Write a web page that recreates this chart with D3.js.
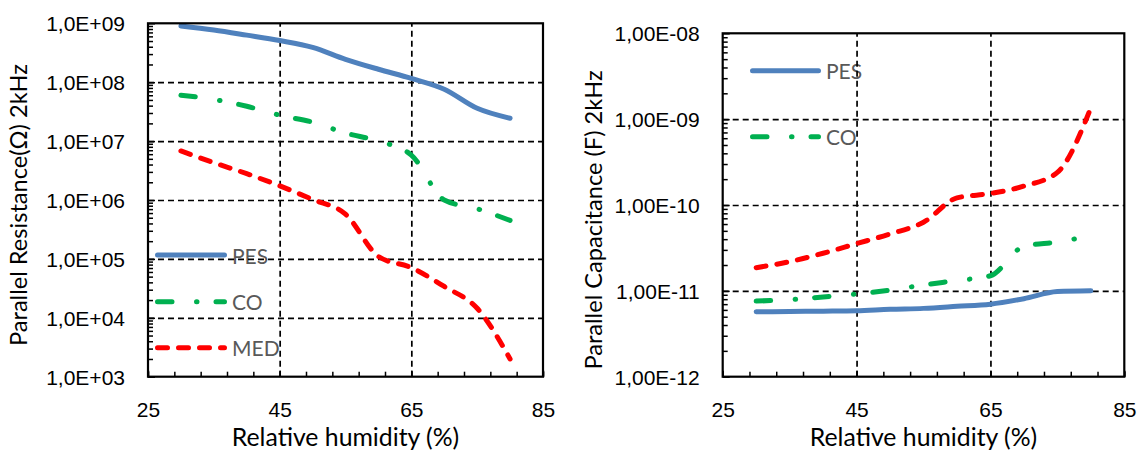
<!DOCTYPE html>
<html>
<head>
<meta charset="utf-8">
<script src="https://cdn.jsdelivr.net/npm/d3@7"></script>
<style>
  html, body { margin: 0; padding: 0; background: #fff; }
  svg { display: block; font-family: Lato, "Open Sans", sans-serif; }
</style>
</head>
<body>
<script>
// Relative humidity (%) at which each sample was measured
const humidity = [30, 35, 40, 45, 50, 55, 60, 65, 70, 75, 80];

// Parallel resistance (Ω) at 2 kHz
const resistancePES = [9.0e8, 7.7e8, 6.3e8, 5.1e8, 3.9e8, 2.45e8, 1.66e8, 1.16e8, 7.6e7, 3.6e7, 2.44e7];
const resistanceCO  = [6.0e7, 5.1e7, 3.9e7, 2.75e7, 2.1e7, 1.37e7, 1.0e7, 5.8e6, 1.0e6, 7.1e5, 4.5e5];
const resistanceMED = [6.8e6, 4.3e6, 2.8e6, 1.74e6, 1.02e6, 5.75e5, 1.1e5, 7.1e4, 3.4e4, 1.45e4, 2.0e3];

// Parallel capacitance (F) at 2 kHz
const capacitancePES = [5.7e-12, 5.75e-12, 5.8e-12, 5.87e-12, 6.1e-12, 6.25e-12, 6.6e-12, 7.0e-12, 8.1e-12, 9.8e-12, 1.0e-11];
const capacitanceCO  = [7.6e-12, 7.9e-12, 8.5e-12, 9.2e-12, 1.02e-11, 1.17e-11, 1.32e-11, 1.5e-11, 3.3e-11, 3.7e-11, 4.4e-11];
const capacitanceMED = [1.86e-11, 2.19e-11, 2.74e-11, 3.55e-11, 4.6e-11, 6.3e-11, 1.21e-10, 1.36e-10, 1.66e-10, 2.4e-10, 1.35e-9];

// Axis ticks
const xTickValues = [25, 45, 65, 85];
const resistanceTickValues = [1e3, 1e4, 1e5, 1e6, 1e7, 1e8, 1e9];
const resistanceTickLabels = ["1,0E+03", "1,0E+04", "1,0E+05", "1,0E+06", "1,0E+07", "1,0E+08", "1,0E+09"];
const capacitanceTickValues = [1e-12, 1e-11, 1e-10, 1e-9, 1e-8];
const capacitanceTickLabels = ["1,00E-12", "1,00E-11", "1,00E-10", "1,00E-09", "1,00E-08"];

const seriesStyle = {
  PES: { color: "#4F81BD", dash: null },
  CO:  { color: "#00B050", dash: "14.5,24.5,0.5,19" },
  MED: { color: "#FF0000", dash: "10,11" }
};

const W = 1137, H = 454;
const TICK_FONT = 21;
const X_TITLE_FONT = 24.8;
const Y_TITLE_FONT = 23.6;
const LINE_W = 5;
const svg = d3.select("body").append("svg").attr("width", W).attr("height", H);

function drawPanel(p) {
  const x = d3.scaleLinear().domain([25, 85]).range([p.left, p.right]);
  const y = d3.scaleLog().domain([p.tickValues[0], p.tickValues[p.tickValues.length - 1]]).range([p.bottom, p.top]);
  const g = svg.append("g");
  const plotW = p.right - p.left, plotH = p.bottom - p.top;

  // legend (sits beneath the grid)
  const leg = g.append("g");
  p.legend.forEach((it) => {
    const st = seriesStyle[it.name];
    leg.append("line")
      .attr("x1", it.x + LINE_W / 2).attr("x2", it.x + it.len - LINE_W / 2)
      .attr("y1", it.y).attr("y2", it.y)
      .attr("stroke", st.color).attr("stroke-width", LINE_W)
      .attr("stroke-linecap", "round")
      .attr("stroke-dasharray", st.dash);
    leg.append("text")
      .attr("x", it.x + it.len + 5).attr("y", it.y)
      .attr("dominant-baseline", "central")
      .attr("font-size", TICK_FONT).attr("fill", "#595959")
      .text(it.name);
  });

  // dashed grid
  const styleGrid = (s) => {
    s.select(".domain").remove();
    s.selectAll("line").attr("stroke", "#000").attr("stroke-width", 1.7).attr("stroke-dasharray", "6,4");
  };
  g.append("g").attr("transform", `translate(0,${p.bottom})`)
    .call(d3.axisBottom(x).tickValues(xTickValues.slice(1, -1)).tickSize(-plotH).tickFormat(""))
    .call(styleGrid);
  g.append("g").attr("transform", `translate(${p.left},0)`)
    .call(d3.axisLeft(y).tickValues(p.tickValues.slice(1, -1)).tickSize(-plotW).tickFormat(""))
    .call(styleGrid);

  // series
  const line = d3.line()
    .x((d) => x(d[0]))
    .y((d) => y(d[1]))
    .curve(d3.curveMonotoneX);
  p.series.forEach((s) => {
    const st = seriesStyle[s.name];
    g.append("path")
      .datum(humidity.map((h, i) => [h, s.values[i]]))
      .attr("d", line)
      .attr("fill", "none")
      .attr("stroke", st.color)
      .attr("stroke-width", LINE_W)
      .attr("stroke-linecap", "round")
      .attr("stroke-linejoin", "round")
      .attr("stroke-dasharray", st.dash);
  });

  // minor ticks (inside)
  const xMinor = d3.range(25, 85.01, 4);
  const yMinor = [];
  p.tickValues.slice(0, -1).forEach((d) => { for (let k = 2; k <= 9; k++) yMinor.push(d * k); });
  const styleTicks = (s) => {
    s.select(".domain").remove();
    s.selectAll("line").attr("stroke", "#000").attr("stroke-width", 1.5);
  };
  g.append("g").attr("transform", `translate(0,${p.bottom})`)
    .call(d3.axisBottom(x).tickValues(xMinor).tickSize(-5).tickFormat(""))
    .call(styleTicks);
  g.append("g").attr("transform", `translate(${p.left},0)`)
    .call(d3.axisLeft(y).tickValues(yMinor).tickSize(-5).tickFormat(""))
    .call(styleTicks);

  // major axes with labels
  const styleAxis = (s) => {
    s.select(".domain").remove();
    s.selectAll("line").attr("stroke", "#000").attr("stroke-width", 1.5);
    s.selectAll("text").attr("font-size", TICK_FONT).attr("fill", "#000").attr("font-family", null);
  };
  g.append("g").attr("transform", `translate(0,${p.bottom})`)
    .call(d3.axisBottom(x).tickValues(xTickValues).tickSize(-6).tickSizeOuter(0).tickPadding(25))
    .call(styleAxis);
  const yAxis = g.append("g").attr("transform", `translate(${p.left},0)`)
    .call(d3.axisLeft(y).tickValues(p.tickValues)
      .tickFormat((d, i) => p.tickLabels[i])
      .tickSize(-7).tickSizeOuter(0).tickPadding(23))
    .call(styleAxis);
  yAxis.selectAll("text").attr("dy", null).attr("dominant-baseline", "central");

  // plot frame
  g.append("rect")
    .attr("x", p.left).attr("y", p.top)
    .attr("width", plotW).attr("height", plotH)
    .attr("fill", "none").attr("stroke", "#000").attr("stroke-width", 2.2);

  // axis titles
  g.append("text")
    .attr("x", (p.left + p.right) / 2).attr("y", 446)
    .attr("text-anchor", "middle").attr("font-size", X_TITLE_FONT)
    .text("Relative humidity (%)");
  g.append("text")
    .attr("transform", `translate(${p.yTitleX},${p.yTitleY}) rotate(-90)`)
    .attr("text-anchor", "middle").attr("dominant-baseline", "central")
    .attr("font-size", Y_TITLE_FONT)
    .text(p.yTitle);
}

drawPanel({
  left: 148, right: 543, top: 23.3, bottom: 376.7,
  tickValues: resistanceTickValues, tickLabels: resistanceTickLabels,
  yTitle: "Parallel Resistance(Ω) 2kHz", yTitleX: 18, yTitleY: 205,
  series: [
    { name: "PES", values: resistancePES },
    { name: "CO", values: resistanceCO },
    { name: "MED", values: resistanceMED }
  ],
  legend: [
    { name: "PES", x: 155, y: 255, len: 72 },
    { name: "CO", x: 155, y: 301.7, len: 72 },
    { name: "MED", x: 155, y: 347.7, len: 72 }
  ]
});

drawPanel({
  left: 722.7, right: 1124.3, top: 33.3, bottom: 376.7,
  tickValues: capacitanceTickValues, tickLabels: capacitanceTickLabels,
  yTitle: "Parallel Capacitance (F) 2kHz", yTitleX: 593, yTitleY: 220,
  series: [
    { name: "PES", values: capacitancePES },
    { name: "CO", values: capacitanceCO },
    { name: "MED", values: capacitanceMED }
  ],
  legend: [
    { name: "PES", x: 750, y: 70.7, len: 71 },
    { name: "CO", x: 750, y: 136.7, len: 71 }
  ]
});
</script>
</body>
</html>
